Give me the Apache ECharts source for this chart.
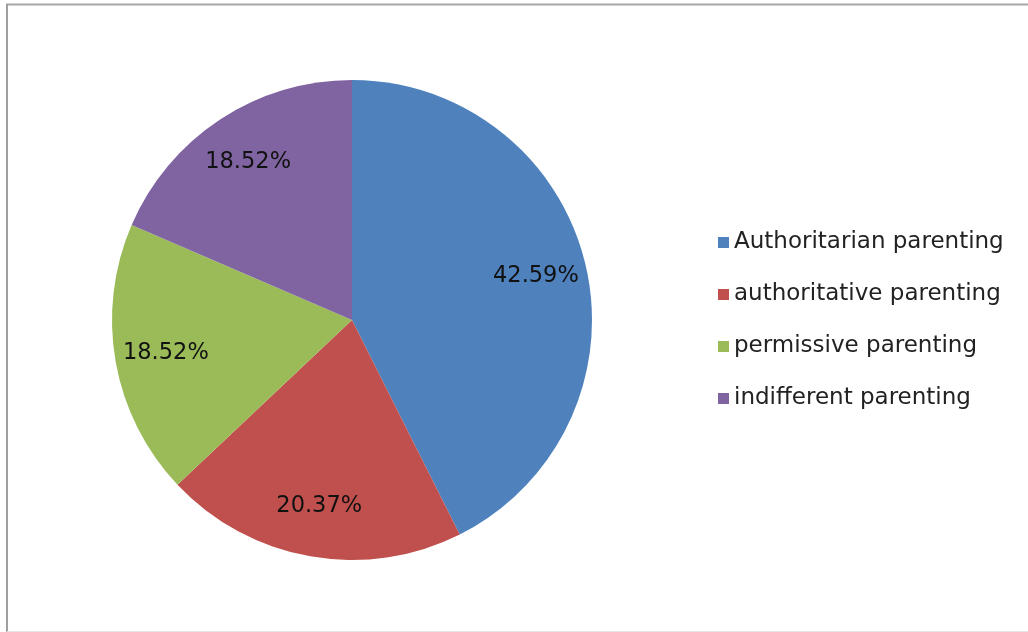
<!DOCTYPE html>
<html>
<head>
<meta charset="utf-8">
<script src="https://cdn.jsdelivr.net/npm/echarts@6/dist/echarts.min.js"></script>
<style>
html,body{margin:0;padding:0;background:#fff;}
#c{width:1028px;height:632px;}
</style>
</head>
<body>
<div id="c"></div>
<script>
var categories = ['Authoritarian parenting', 'authoritative parenting', 'permissive parenting', 'indifferent parenting'];
var values = [42.59, 20.37, 18.52, 18.52];
var colors = ['#4F81BD', '#C0504D', '#9BBB59', '#8064A2'];

var chart = echarts.init(document.getElementById('c'));
var pieData = categories.map(function (n, i) { return { name: n, value: values[i] }; });
var FONT = '"DejaVu Sans", "Open Sans", sans-serif';
chart.setOption({
  animation: false,
  color: colors,
  graphic: [
    { type: 'line', shape: { x1: 6, y1: 4.5, x2: 1028, y2: 4.5 }, style: { stroke: '#a8a8a8', lineWidth: 2 } },
    { type: 'line', shape: { x1: 7, y1: 4, x2: 7, y2: 632 }, style: { stroke: '#a0a0a0', lineWidth: 2 } },
    { type: 'line', shape: { x1: 7, y1: 631.5, x2: 1028, y2: 631.5 }, style: { stroke: '#e6e6e6', lineWidth: 1 } }
  ],
  legend: {
    orient: 'vertical',
    left: 713,
    top: 226,
    itemWidth: 11,
    itemHeight: 11,
    itemGap: 29,
    icon: 'rect',
    data: categories,
    selectedMode: false,
    textStyle: { fontFamily: FONT, fontSize: 23, lineHeight: 22, color: '#222', padding: [0, 0, 0, 0] }
  },
  series: [
    {
      type: 'pie',
      center: [352, 320],
      radius: [0, 240],
      startAngle: 90,
      clockwise: true,
      data: pieData,
      label: { show: false },
      labelLine: { show: false },
      itemStyle: { borderWidth: 0 },
      emphasis: { disabled: true },
      silent: true
    },
    {
      type: 'pie',
      center: [352, 320],
      radius: [132, 240],
      startAngle: 90,
      clockwise: true,
      data: pieData,
      silent: true,
      emphasis: { disabled: true },
      itemStyle: { color: 'rgba(0,0,0,0)', borderWidth: 0 },
      label: {
        show: true,
        position: 'inside',
        fontFamily: FONT,
        fontSize: 22.5,
        color: '#111',
        formatter: function (p) { return p.value.toFixed(2) + '%'; }
      },
      labelLine: { show: false }
    }
  ]
});
</script>
</body>
</html>
